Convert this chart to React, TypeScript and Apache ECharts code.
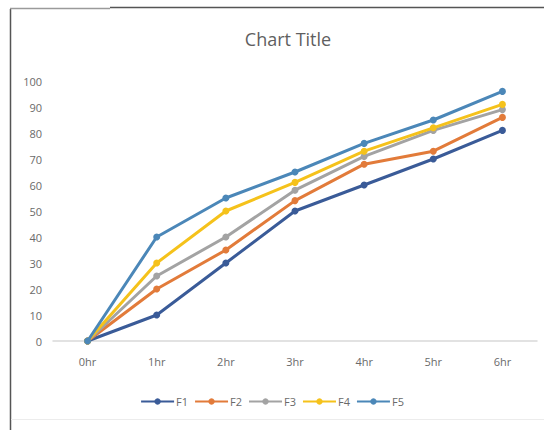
import React, { useEffect, useRef } from "react";
import * as echarts from "echarts";

const categories = ["0hr", "1hr", "2hr", "3hr", "4hr", "5hr", "6hr"];
const seriesNames = ["F1", "F2", "F3", "F4", "F5"];
const f1 = [0, 10, 30, 50, 60, 70, 81];
const f2 = [0, 20, 35, 54, 68, 73, 86];
const f3 = [0, 25, 40, 58, 71, 81, 89];
const f4 = [0, 30, 50, 61, 73, 82, 91];
const f5 = [0, 40, 55, 65, 76, 85, 96];
const yTicks = [0, 10, 20, 30, 40, 50, 60, 70, 80, 90, 100];
const colors = ["#3a5b98", "#e27b3a", "#a3a3a3", "#f5c21b", "#4b87b8"];

export default function App() {
  const ref = useRef<HTMLDivElement>(null);
  useEffect(() => {
    document.body.style.margin = "0";
    const chart = echarts.init(ref.current!, null, { renderer: "svg" });
    const data = [f1, f2, f3, f4, f5];
    const font = "'Open Sans', sans-serif";
    chart.setOption({
      animation: false,
      backgroundColor: "#ffffff",
      color: colors,
      title: {
        text: "Chart Title",
        left: 283,
        textAlign: "center",
        top: 25,
        textStyle: { fontFamily: font, fontSize: 18, fontWeight: "normal", color: "#5f5f5f" },
      },
      grid: { left: 53, right: 7, top: 81, bottom: 89, containLabel: false },
      xAxis: {
        type: "category",
        data: categories,
        boundaryGap: true,
        axisLine: { lineStyle: { color: "#d9d9d9", width: 1.5 } },
        axisTick: { show: false },
        axisLabel: { margin: 15, fontFamily: font, fontSize: 11, color: "#6a6a6a" },
      },
      yAxis: {
        type: "value",
        min: yTicks[0],
        max: yTicks[yTicks.length - 1],
        interval: 10,
        axisLine: { show: false },
        axisTick: { show: false },
        splitLine: { show: false },
        axisLabel: { margin: 11, fontFamily: font, fontSize: 11, color: "#6a6a6a" },
      },
      legend: {
        data: seriesNames,
        bottom: 18,
        left: "center",
        itemWidth: 33,
        itemHeight: 8,
        itemGap: 6,
        textStyle: { fontFamily: font, fontSize: 11, color: "#6a6a6a", padding: [0, 0, 0, -3] },
      },
      graphic: [
        { type: "line", shape: { x1: 10.5, y1: 9, x2: 10.5, y2: 430 }, style: { stroke: "#555555", lineWidth: 1.5 } },
        { type: "line", shape: { x1: 10, y1: 8.5, x2: 110, y2: 8.5 }, style: { stroke: "#9a9a9a", lineWidth: 1.5 } },
        { type: "line", shape: { x1: 110, y1: 7.5, x2: 544, y2: 7.5 }, style: { stroke: "#555555", lineWidth: 1.5 } },
        { type: "line", shape: { x1: 11, y1: 419.5, x2: 544, y2: 419.5 }, style: { stroke: "#ececec", lineWidth: 1 } },
      ],
      series: seriesNames.map((name, i) => ({
        name,
        type: "line",
        data: data[i],
        symbol: "circle",
        symbolSize: 7,
        lineStyle: { width: 3, color: colors[i] },
        itemStyle: { color: colors[i] },
        z: 2 + i,
      })),
    });
    return () => chart.dispose();
  }, []);
  return <div ref={ref} style={{ width: 544, height: 430 }} />;
}
